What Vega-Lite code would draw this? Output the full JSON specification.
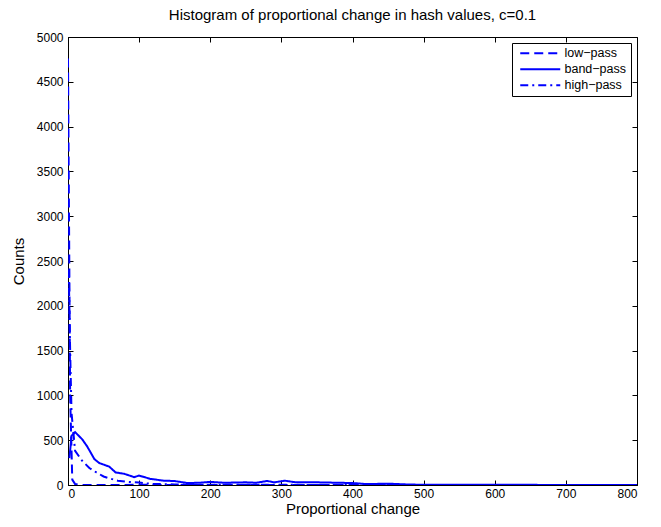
{
  "$schema": "https://vega.github.io/schema/vega-lite/v6.json",
  "width": 569,
  "height": 448,
  "autosize": {"type": "none"},
  "padding": {"left": 68, "top": 37, "right": 24, "bottom": 42},
  "background": "white",
  "title": {"text": "Histogram of proportional change in hash values, c=0.1", "font": "Liberation Sans", "fontSize": 15, "fontWeight": "normal", "color": "black", "offset": 8},
  "config": {
    "view": {"stroke": "black", "strokeWidth": 1},
    "axis": {"labelFont": "Liberation Sans", "titleFont": "Liberation Sans", "labelFontSize": 12, "titleFontSize": 15, "titleFontWeight": "normal", "labelColor": "black", "titleColor": "black", "tickColor": "black", "domainColor": "black", "grid": false, "tickSize": -5, "format": "d"}
  },
  "data": {"values": [
    {"x": 0, "count": 4760, "filter": "low−pass"},
    {"x": 3, "count": 1000, "filter": "low−pass"},
    {"x": 6, "count": 60, "filter": "low−pass"},
    {"x": 10, "count": 10, "filter": "low−pass"},
    {"x": 15, "count": 3, "filter": "low−pass"},
    {"x": 20, "count": 0, "filter": "low−pass"},
    {"x": 50, "count": 0, "filter": "low−pass"},
    {"x": 100, "count": 2, "filter": "low−pass"},
    {"x": 200, "count": 0, "filter": "low−pass"},
    {"x": 400, "count": 0, "filter": "low−pass"},
    {"x": 800, "count": 0, "filter": "low−pass"},
    {"x": 2, "count": 300, "filter": "band−pass"},
    {"x": 5, "count": 550, "filter": "band−pass"},
    {"x": 10, "count": 590, "filter": "band−pass"},
    {"x": 20, "count": 510, "filter": "band−pass"},
    {"x": 27, "count": 430, "filter": "band−pass"},
    {"x": 37, "count": 290, "filter": "band−pass"},
    {"x": 44, "count": 245, "filter": "band−pass"},
    {"x": 58, "count": 205, "filter": "band−pass"},
    {"x": 67, "count": 140, "filter": "band−pass"},
    {"x": 79, "count": 125, "filter": "band−pass"},
    {"x": 93, "count": 88, "filter": "band−pass"},
    {"x": 100, "count": 105, "filter": "band−pass"},
    {"x": 116, "count": 68, "filter": "band−pass"},
    {"x": 135, "count": 48, "filter": "band−pass"},
    {"x": 149, "count": 45, "filter": "band−pass"},
    {"x": 168, "count": 22, "filter": "band−pass"},
    {"x": 185, "count": 25, "filter": "band−pass"},
    {"x": 200, "count": 35, "filter": "band−pass"},
    {"x": 220, "count": 25, "filter": "band−pass"},
    {"x": 250, "count": 30, "filter": "band−pass"},
    {"x": 265, "count": 25, "filter": "band−pass"},
    {"x": 280, "count": 45, "filter": "band−pass"},
    {"x": 290, "count": 30, "filter": "band−pass"},
    {"x": 305, "count": 48, "filter": "band−pass"},
    {"x": 320, "count": 30, "filter": "band−pass"},
    {"x": 350, "count": 30, "filter": "band−pass"},
    {"x": 380, "count": 25, "filter": "band−pass"},
    {"x": 400, "count": 22, "filter": "band−pass"},
    {"x": 420, "count": 10, "filter": "band−pass"},
    {"x": 450, "count": 15, "filter": "band−pass"},
    {"x": 480, "count": 5, "filter": "band−pass"},
    {"x": 500, "count": 3, "filter": "band−pass"},
    {"x": 600, "count": 2, "filter": "band−pass"},
    {"x": 700, "count": 1, "filter": "band−pass"},
    {"x": 800, "count": 0, "filter": "band−pass"},
    {"x": 1, "count": 2400, "filter": "high−pass"},
    {"x": 3, "count": 1500, "filter": "high−pass"},
    {"x": 5, "count": 800, "filter": "high−pass"},
    {"x": 10, "count": 380, "filter": "high−pass"},
    {"x": 20, "count": 270, "filter": "high−pass"},
    {"x": 30, "count": 190, "filter": "high−pass"},
    {"x": 40, "count": 140, "filter": "high−pass"},
    {"x": 50, "count": 95, "filter": "high−pass"},
    {"x": 60, "count": 70, "filter": "high−pass"},
    {"x": 70, "count": 48, "filter": "high−pass"},
    {"x": 80, "count": 38, "filter": "high−pass"},
    {"x": 90, "count": 32, "filter": "high−pass"},
    {"x": 100, "count": 28, "filter": "high−pass"},
    {"x": 110, "count": 18, "filter": "high−pass"},
    {"x": 120, "count": 12, "filter": "high−pass"},
    {"x": 150, "count": 6, "filter": "high−pass"},
    {"x": 200, "count": 3, "filter": "high−pass"},
    {"x": 300, "count": 2, "filter": "high−pass"},
    {"x": 400, "count": 0, "filter": "high−pass"},
    {"x": 800, "count": 0, "filter": "high−pass"}
  ]},
  "layer": [
    {
      "mark": {"type": "line", "color": "#0000ff", "strokeWidth": 2, "clip": true},
      "encoding": {
        "x": {"field": "x", "type": "quantitative", "scale": {"domain": [0, 800], "nice": false, "zero": false},
              "axis": {"orient": "bottom", "values": [0, 100, 200, 300, 400, 500, 600, 700, 800], "labelPadding": 8, "title": "Proportional change", "titlePadding": 2}},
        "y": {"field": "count", "type": "quantitative", "scale": {"domain": [0, 5000], "nice": false},
              "axis": {"orient": "left", "values": [0, 500, 1000, 1500, 2000, 2500, 3000, 3500, 4000, 4500, 5000], "labelPadding": 10, "title": "Counts", "titlePadding": 10}},
        "strokeDash": {"field": "filter", "type": "nominal",
          "scale": {"domain": ["low−pass", "band−pass", "high−pass"], "range": [[9, 5], [1, 0], [8, 4, 2, 4]]},
          "legend": {"title": null, "orient": "top-right", "offset": 6, "symbolType": "M-4,0H4", "symbolSize": 100, "symbolStrokeColor": "#0000ff", "symbolStrokeWidth": 2, "symbolOffset": 18, "labelOffset": 18, "labelFont": "Liberation Sans", "labelFontSize": 12.5, "labelColor": "black", "strokeColor": "black", "fillColor": "white", "padding": 4, "rowPadding": 3, "cornerRadius": 0}
        }
      }
    },
    {
      "mark": {"type": "line", "opacity": 0},
      "encoding": {
        "x": {"field": "x", "type": "quantitative", "axis": {"orient": "top", "values": [0, 100, 200, 300, 400, 500, 600, 700, 800], "labels": false, "title": null, "domain": false}},
        "y": {"field": "count", "type": "quantitative", "axis": {"orient": "right", "values": [0, 500, 1000, 1500, 2000, 2500, 3000, 3500, 4000, 4500, 5000], "labels": false, "title": null, "domain": false}},
        "detail": {"field": "filter"}
      }
    }
  ],
  "resolve": {"axis": {"x": "independent", "y": "independent"}}
}
